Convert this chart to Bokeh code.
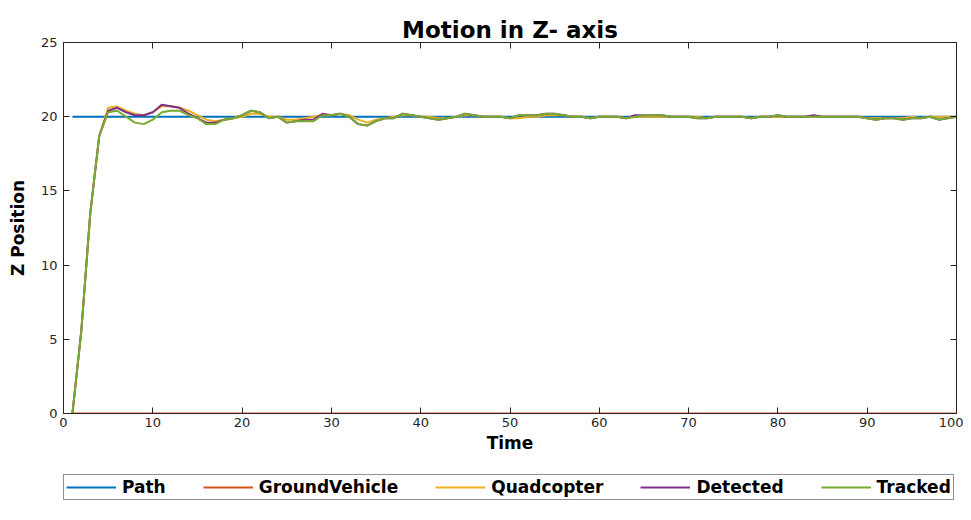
from bokeh.plotting import figure
from bokeh.models import Legend, LegendItem, LinearAxis, Range1d, FixedTicker
from bokeh.layouts import column
from bokeh.embed import file_html
from bokeh.resources import INLINE

time = list(range(1, 101))
path = [20.0] * 100
ground_vehicle = [0.0] * 100
quadcopter = [
    0.0, 5.6, 13.5, 18.7, 20.6, 20.7, 20.4, 20.2, 20.1, 20.3,
    20.7, 20.7, 20.6, 20.4, 20.1, 19.8, 19.7, 19.8, 19.9, 20.0,
    20.2, 20.2, 20.0, 20.0, 19.8, 19.8, 19.9, 20.0, 20.1, 20.1,
    20.2, 20.1, 19.8, 19.6, 19.8, 19.9, 20.0, 20.1, 20.1, 20.0,
    20.0, 19.9, 19.9, 20.0, 20.1, 20.1, 20.0, 20.0, 20.0, 19.9,
    19.9, 20.0, 20.0, 20.1, 20.1, 20.1, 20.0, 20.0, 19.9, 20.0,
    20.0, 20.0, 19.9, 20.0, 20.0, 20.0, 20.0, 20.0, 20.0, 20.0,
    20.0, 19.9, 20.0, 20.0, 20.0, 20.0, 19.9, 20.0, 20.0, 20.0,
    20.0, 20.0, 20.0, 20.0, 20.0, 20.0, 20.0, 20.0, 20.0, 19.9,
    19.9, 19.9, 19.9, 19.9, 20.0, 19.9, 20.0, 20.0, 20.0, 20.0,
]
detected = [
    0.0, 5.6, 13.5, 18.7, 20.4, 20.6, 20.3, 20.1, 20.1, 20.3,
    20.8, 20.7, 20.6, 20.2, 19.9, 19.6, 19.6, 19.8, 19.9, 20.1,
    20.4, 20.3, 19.9, 20.0, 19.6, 19.7, 19.8, 19.8, 20.2, 20.1,
    20.2, 20.0, 19.5, 19.4, 19.7, 19.9, 19.9, 20.2, 20.1, 20.0,
    19.9, 19.8, 19.9, 20.0, 20.2, 20.1, 20.0, 20.0, 20.0, 19.9,
    20.1, 20.1, 20.1, 20.2, 20.2, 20.1, 20.0, 20.0, 19.9, 20.0,
    20.0, 20.0, 19.9, 20.1, 20.1, 20.1, 20.1, 20.0, 20.0, 20.0,
    19.9, 19.9, 20.0, 20.0, 20.0, 20.0, 19.9, 20.0, 20.0, 20.1,
    20.0, 20.0, 20.0, 20.1, 20.0, 20.0, 20.0, 20.0, 20.0, 19.9,
    19.8, 19.9, 19.9, 19.8, 19.9, 19.9, 20.0, 19.8, 19.9, 20.0,
]
tracked = [
    0.0, 5.6, 13.5, 18.7, 20.3, 20.4, 20.0, 19.6, 19.5, 19.8,
    20.3, 20.4, 20.4, 20.1, 19.9, 19.5, 19.5, 19.8, 19.9, 20.1,
    20.4, 20.3, 19.9, 20.0, 19.6, 19.7, 19.7, 19.7, 20.1, 20.1,
    20.2, 20.0, 19.5, 19.4, 19.7, 19.9, 19.9, 20.2, 20.1, 20.0,
    19.9, 19.8, 19.9, 20.0, 20.2, 20.1, 20.0, 20.0, 20.0, 19.9,
    20.1, 20.1, 20.1, 20.2, 20.2, 20.1, 20.0, 20.0, 19.9, 20.0,
    20.0, 20.0, 19.9, 20.0, 20.1, 20.1, 20.1, 20.0, 20.0, 20.0,
    19.9, 19.9, 20.0, 20.0, 20.0, 20.0, 19.9, 20.0, 20.0, 20.1,
    20.0, 20.0, 20.0, 20.0, 20.0, 20.0, 20.0, 20.0, 20.0, 19.9,
    19.8, 19.9, 19.9, 19.8, 19.9, 19.9, 20.0, 19.8, 19.9, 20.0,
]

series_names = ["Path", "GroundVehicle", "Quadcopter", "Detected", "Tracked"]
series_values = [path, ground_vehicle, quadcopter, detected, tracked]
colors = ["#0072BD", "#D95319", "#EDB120", "#7E2F8E", "#77AC30"]
x_ticks = list(range(0, 101, 10))
y_ticks = list(range(0, 26, 5))

FONT = "DejaVu Sans"

p = figure(frame_width=893, frame_height=371, output_backend="svg", toolbar_location=None,
           x_range=Range1d(0, 100), y_range=Range1d(0, 25),
           min_border_left=63, min_border_right=7, min_border_top=42, min_border_bottom=60)
p.background_fill_color = "white"
p.border_fill_color = "white"
p.outline_line_color = "#262626"
p.outline_line_width = 1
p.xgrid.visible = False
p.ygrid.visible = False

p.title.text = "Motion in Z- axis"
p.title.align = "center"
p.title.text_font = FONT
p.title.text_font_size = "23px"
p.title.text_font_style = "bold"
p.title.text_color = "black"
p.title.standoff = 0

for name, vals, c in zip(series_names, series_values, colors):
    p.line(time, vals, line_color=c, line_width=2)

def style_axis(ax, labels=True):
    ax.major_tick_in = 6
    ax.major_tick_out = 0
    ax.minor_tick_in = 0
    ax.minor_tick_out = 0
    ax.axis_line_color = "#262626"
    ax.major_tick_line_color = "#262626"
    ax.major_label_text_font = FONT
    ax.major_label_text_font_size = "13px"
    ax.major_label_text_color = "#262626"
    ax.axis_label_text_font = FONT
    ax.axis_label_text_font_size = "17px"
    ax.axis_label_text_font_style = "bold"
    ax.axis_label_text_color = "black"
    if not labels:
        ax.major_label_text_alpha = 0
        ax.major_label_text_font_size = "1px"
        ax.major_label_standoff = 0

p.xaxis.ticker = FixedTicker(ticks=x_ticks)
p.yaxis.ticker = FixedTicker(ticks=y_ticks)
p.xaxis.axis_label = "Time"
p.yaxis.axis_label = "Z Position"
style_axis(p.xaxis[0])
style_axis(p.yaxis[0])
p.xaxis.major_label_standoff = 4
p.yaxis.major_label_standoff = 6
p.xaxis.axis_label_standoff = 3
p.yaxis.axis_label_standoff = 10

top_ax = LinearAxis(ticker=FixedTicker(ticks=x_ticks))
right_ax = LinearAxis(ticker=FixedTicker(ticks=y_ticks))
style_axis(top_ax, labels=False)
style_axis(right_ax, labels=False)
p.add_layout(top_ax, "above")
p.add_layout(right_ax, "right")

# legend strip below the main plot (series drawn out of view, only legend shows)
lf = figure(width=963, height=30, output_backend="svg", toolbar_location=None,
            x_range=Range1d(0, 100), y_range=Range1d(100, 101),
            x_axis_location=None, y_axis_location=None,
            min_border_left=0, min_border_right=0, min_border_top=0, min_border_bottom=0)
lf.outline_line_color = None
lf.xgrid.visible = False
lf.ygrid.visible = False
items = []
for name, vals, c in zip(series_names, series_values, colors):
    r = lf.line(time, vals, line_color=c, line_width=2)
    items.append(LegendItem(label=name, renderers=[r]))

legend = Legend(items=items, orientation="horizontal", location=(0, 3))
legend.label_text_font = FONT
legend.label_text_font_size = "17px"
legend.label_text_font_style = "bold"
legend.label_text_color = "black"
legend.label_height = 14
legend.glyph_width = 50
legend.glyph_height = 14
legend.label_standoff = 6
legend.spacing = 37
legend.padding = 2
legend.margin = 0
legend.border_line_color = "#262626"
legend.border_line_width = 1
legend.background_fill_color = "white"
legend.background_fill_alpha = 1
lf.add_layout(legend, "center")

layout = column(p, lf, spacing=0)
open("out.html", "w").write(file_html(layout, INLINE))
